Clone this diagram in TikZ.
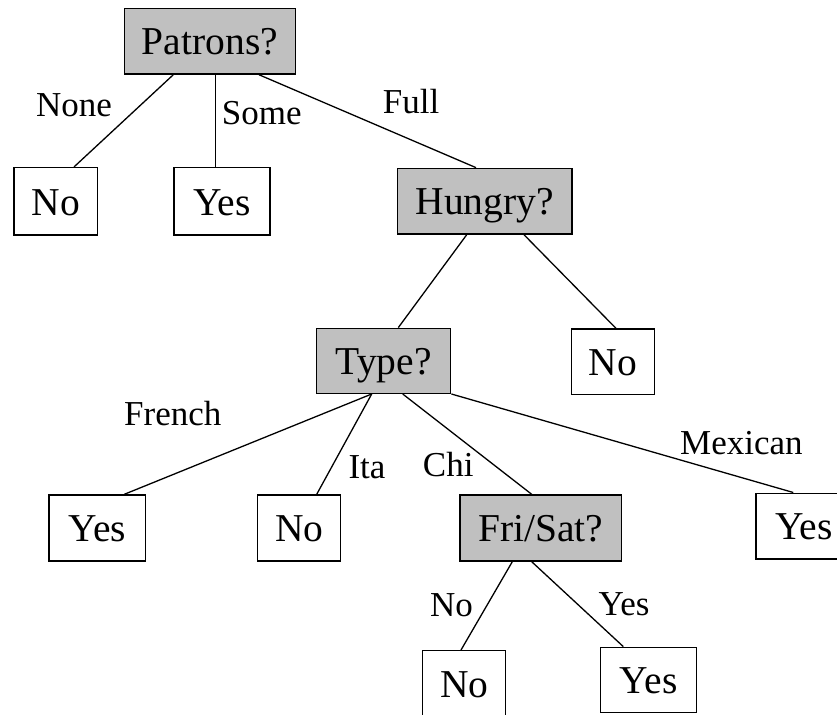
\documentclass[tikz,border=0pt]{standalone}
\usepackage{fontspec}
\setmainfont{Liberation Serif}
\definecolor{boxgray}{RGB}{192,192,192}
\begin{document}
\begin{tikzpicture}[x=1pt,y=-1pt,
  box/.style={draw=black,line width=1.4pt,inner sep=0pt,text height=27.4pt,text depth=0pt,font=\fontsize{39.5}{39.5}\selectfont},
  qbox/.style={box,fill=boxgray},
  lbl/.style={inner sep=0pt,anchor=base west,font=\fontsize{35}{35}\selectfont},
  edge/.style={line width=1.3pt}]
\useasboundingbox (0,0) rectangle (837,714);
% boxes
\node[qbox,minimum width=171.4pt,minimum height=65.7pt] (patrons) at (210,41.2) {Patrons?};
\node[box,minimum width=83.7pt,minimum height=67.3pt] (no1) at (55.8,201.3) {No};
\node[box,minimum width=96pt,minimum height=67.3pt] (yes1) at (222,201.3) {Yes};
\node[qbox,minimum width=174.5pt,minimum height=65.7pt] (hungry) at (484.7,201.2) {Hungry?};
\node[qbox,minimum width=134pt,minimum height=65pt] (type) at (383.7,360.8) {Type?};
\node[box,minimum width=82.6pt,minimum height=65.3pt] (no2) at (613,361.7) {No};
\node[box,minimum width=96.3pt,minimum height=66pt] (yes2) at (97.2,528) {Yes};
\node[box,minimum width=83pt,minimum height=66pt] (no3) at (299.2,528) {No};
\node[qbox,minimum width=161.7pt,minimum height=66pt] (frisat) at (540.8,528) {Fri/Sat?};
\node[box,minimum width=96pt,minimum height=65.6pt] (yes3) at (804,526) {Yes};
\node[box,minimum width=83pt,minimum height=66pt] (no4) at (464.2,683.7) {No};
\node[box,minimum width=96pt,minimum height=65.4pt] (yes4) at (648.7,680) {Yes};
% edges
\draw[edge] ([xshift=-36.7pt]patrons.south) -- ([xshift=18.2pt]no1.north);
\draw[edge] ([xshift=5.7pt]patrons.south) -- ([xshift=-6.3pt]yes1.north);
\draw[edge] ([xshift=49pt]patrons.south) -- ([xshift=-8.7pt]hungry.north);
\draw[edge] ([xshift=-18pt]hungry.south) -- ([xshift=14.6pt]type.north);
\draw[edge] ([xshift=39.3pt]hungry.south) -- ([xshift=3pt]no2.north);
\draw[edge] ([xshift=-12pt]type.south) -- ([xshift=27.1pt]yes2.north);
\draw[edge] ([xshift=-12pt]type.south) -- ([xshift=17.5pt]no3.north);
\draw[edge] ([xshift=19pt]type.south) -- ([xshift=-9.1pt]frisat.north);
\draw[edge] (type.south east) -- ([xshift=-10.7pt]yes3.north);
\draw[edge] ([xshift=-28.5pt]frisat.south) -- ([xshift=-3.2pt]no4.north);
\draw[edge] ([xshift=-9.1pt]frisat.south) -- ([xshift=-25.4pt]yes4.north);
% labels
\node[lbl] (lnone) at (36,116.7) {None};
\node[lbl] (lsome) at (221.7,125) {Some};
\node[lbl] (lfull) at (382.7,113.3) {Full};
\node[lbl] (lfrench) at (124,425.7) {French};
\node[lbl] (lita) at (348.3,478.3) {Ita};
\node[lbl] (lchi) at (422.7,476.7) {Chi};
\node[lbl] (lmex) at (680,454) {Mexican};
\node[lbl] (lno) at (430,616.7) {No};
\node[lbl] (lyes) at (598.3,615) {Yes};
\end{tikzpicture}
\end{document}
